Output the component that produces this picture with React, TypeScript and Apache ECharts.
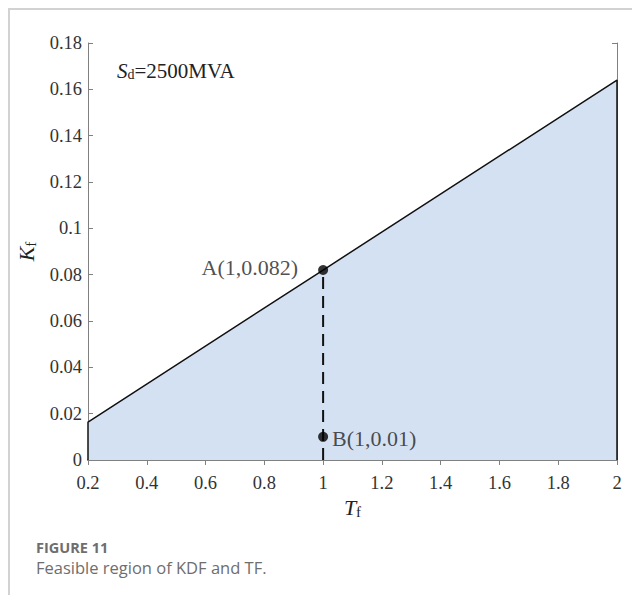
import React, { useEffect, useRef } from "react";
import * as echarts from "echarts";

const boundary: [number, number][] = [
  [0.2, 0],
  [0.2, 0.0164],
  [1, 0.082],
  [2, 0.164],
  [2, 0],
];
const dashedLine: [number, number][] = [
  [1, 0],
  [1, 0.082],
];
const pointA: [number, number] = [1, 0.082];
const pointB: [number, number] = [1, 0.01];
const labelA = "A(1,0.082)";
const labelB = "B(1,0.01)";
const caption1 = "FIGURE 11";
const caption2 = "Feasible region of KDF and TF.";

const serif = "Liberation Serif, Times New Roman, serif";

export default function App() {
  const ref = useRef<HTMLDivElement>(null);
  useEffect(() => {
    const chart = echarts.init(ref.current!, null, { renderer: "svg" });
    const axisGray = "#808080";
    const nameRich = {
      i: { fontFamily: serif, fontStyle: "italic", fontSize: 22, color: "#222" },
      s: { fontFamily: serif, fontSize: 15, color: "#222", verticalAlign: "bottom", padding: [9, 0, 0, 0] },
    };
    chart.setOption({
      animation: false,
      backgroundColor: "#fff",
      grid: { left: 88, top: 43, right: 24, bottom: 143, containLabel: false },
      xAxis: [
        {
          type: "value",
          min: 0.2,
          max: 2,
          interval: 0.2,
          axisLine: { show: true, lineStyle: { color: "#111", width: 1.5 } },
          axisTick: { show: true, inside: true, length: 5, lineStyle: { color: axisGray } },
          axisLabel: { color: "#333", fontFamily: serif, fontSize: 18.5, margin: 13 },
          splitLine: { show: false },
          name: "{i|T}{s|f}",
          nameLocation: "middle",
          nameGap: 31,
          nameTextStyle: { rich: nameRich },
        },
        {
          type: "value",
          position: "top",
          min: 0.2,
          max: 2,
          interval: 0.2,
          axisLine: { show: true, lineStyle: { color: axisGray } },
          axisTick: { show: true, inside: true, length: 5, lineStyle: { color: axisGray } },
          axisLabel: { show: false },
          splitLine: { show: false },
        },
      ],
      yAxis: [
        {
          type: "value",
          min: 0,
          max: 0.18,
          interval: 0.02,
          axisLine: { show: true, lineStyle: { color: axisGray } },
          axisTick: { show: true, inside: true, length: 5, lineStyle: { color: axisGray } },
          axisLabel: { color: "#333", fontFamily: serif, fontSize: 18.5, margin: 6 },
          splitLine: { show: false },
          name: "{i|K}{s|f}",
          nameLocation: "middle",
          nameGap: 37,
          nameTextStyle: { rich: nameRich },
        },
        {
          type: "value",
          position: "right",
          min: 0,
          max: 0.18,
          interval: 0.02,
          axisLine: { show: true, lineStyle: { color: axisGray } },
          axisTick: { show: true, inside: true, length: 5, lineStyle: { color: axisGray } },
          axisLabel: { show: false },
          splitLine: { show: false },
        },
      ],
      series: [
        {
          type: "line",
          data: boundary,
          symbol: "none",
          lineStyle: { color: "#111", width: 1.5 },
          areaStyle: { color: "#d4e1f2", opacity: 1 },
          z: 2,
        },
        {
          type: "line",
          data: dashedLine,
          symbol: "none",
          lineStyle: { color: "#111", width: 2, type: [12, 7] },
          z: 3,
        },
        {
          type: "scatter",
          data: [pointA],
          symbolSize: 10,
          itemStyle: { color: "#000" },
          label: {
            show: true,
            formatter: labelA,
            position: "left",
            distance: 20,
            offset: [0, -3],
            color: "#222",
            fontFamily: serif,
            fontSize: 22,
          },
          z: 4,
        },
        {
          type: "scatter",
          data: [pointB],
          symbolSize: 10,
          itemStyle: { color: "#000" },
          label: {
            show: true,
            formatter: labelB,
            position: "right",
            distance: 4,
            offset: [0, 2],
            color: "#222",
            fontFamily: serif,
            fontSize: 22,
          },
          z: 4,
        },
      ],
      graphic: [
        { type: "rect", shape: { x: 8, y: 8, width: 624, height: 2 }, style: { fill: "#d2d2d2" }, z: 10 },
        { type: "rect", shape: { x: 8, y: 8, width: 2, height: 595 }, style: { fill: "#d2d2d2" }, z: 10 },
        {
          type: "text",
          left: 117,
          top: 60,
          style: {
            text: "{i|S}{s|d}{n|=2500MVA}",
            rich: {
              i: { fontFamily: serif, fontStyle: "italic", fontSize: 21, fill: "#222" },
              s: { fontFamily: serif, fontSize: 14, fill: "#222", verticalAlign: "bottom", padding: [8, 0, 0, 0] },
              n: { fontFamily: serif, fontSize: 21, fill: "#222" },
            },
          },
        },
        {
          type: "text",
          left: 36,
          top: 540,
          style: {
            text: caption1,
            fontFamily: "Open Sans, sans-serif",
            fontWeight: "bold",
            fontSize: 14.5,
            lineHeight: 14,
            fill: "#6e6e6e",
          },
        },
        {
          type: "text",
          left: 36,
          top: 558,
          style: {
            text: caption2,
            fontFamily: "Open Sans, sans-serif",
            fontSize: 16.5,
            lineHeight: 18,
            fill: "#6e6e6e",
          },
        },
      ],
    });
    return () => chart.dispose();
  }, []);
  return <div ref={ref} style={{ width: 641, height: 603, margin: -8 }} />;
}
